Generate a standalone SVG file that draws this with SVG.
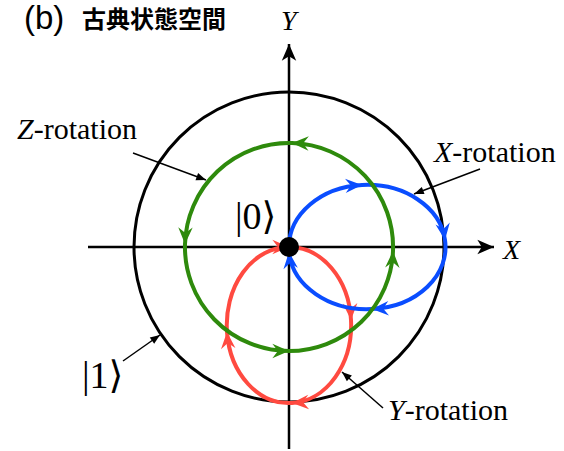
<svg xmlns="http://www.w3.org/2000/svg" width="564" height="451" viewBox="0 0 564 451">
<style>
.lbl{font-family:"Liberation Serif","DejaVu Serif",serif;font-size:30px;fill:#000}
.ax{font-family:"Liberation Serif",serif;font-style:italic;font-size:28px;fill:#000}
.ket{font-family:"Liberation Serif","DejaVu Serif",serif;font-size:38px;fill:#000}
.lead{stroke:#000;stroke-width:1.5;fill:none;marker-end:url(#sm)}
.curve{fill:none;stroke-width:4;stroke-linecap:round}
</style>
<defs>
<marker id="ag" markerUnits="userSpaceOnUse" markerWidth="20" markerHeight="20" refX="0" refY="0" viewBox="-16 -8 18 16" orient="auto"><path d="M0,0 L-15,-6.5 L-10,0 L-15,6.5 Z" fill="#2e8a0c"/></marker>
<marker id="ab" markerUnits="userSpaceOnUse" markerWidth="20" markerHeight="20" refX="0" refY="0" viewBox="-16 -8 18 16" orient="auto"><path d="M0,0 L-15,-6.5 L-10,0 L-15,6.5 Z" fill="#0a4dff"/></marker>
<marker id="ar" markerUnits="userSpaceOnUse" markerWidth="20" markerHeight="20" refX="0" refY="0" viewBox="-16 -8 18 16" orient="auto"><path d="M0,0 L-15,-6.5 L-10,0 L-15,6.5 Z" fill="#ff4a40"/></marker>
<marker id="ak" markerUnits="userSpaceOnUse" markerWidth="20" markerHeight="20" refX="0" refY="0" viewBox="-16 -8 18 16" orient="auto"><path d="M0,0 L-15,-6.5 L-11,0 L-15,6.5 Z" fill="#000"/></marker>
<marker id="sm" markerUnits="userSpaceOnUse" markerWidth="12" markerHeight="12" refX="0" refY="0" viewBox="-10 -5 11 10" orient="auto"><path d="M0,0 L-9,-3.5 L-9,3.5 Z" fill="#000"/></marker>
</defs>

<g id="title">
<text x="24" y="29" style="font-family:'Liberation Sans',sans-serif;font-size:33px">(b)</text>
<text x="82" y="28" style="font-family:'Noto Sans CJK JP',sans-serif;font-weight:bold;font-size:24px">古典状態空間</text>
</g>

<g id="sphere"><circle cx="289" cy="247" r="155" fill="none" stroke="#000" stroke-width="3"/></g>

<g id="axes">
<line x1="88" y1="247" x2="494" y2="247" stroke="#000" stroke-width="2.5" marker-end="url(#ak)"/>
<line x1="289" y1="449" x2="289" y2="44" stroke="#000" stroke-width="2.5" marker-end="url(#ak)"/>
<text class="ax" x="281" y="30">Y</text>
<text class="ax" x="503" y="259">X</text>
</g>

<g id="y-rotation">
<path class="curve" stroke="#ff4a40" d="M289,247 A62,78 0 0 1 351,320 A62,78 0 0 1 292,403 A62,78 0 0 1 227,332 A62,78 0 0 1 289,247" marker-mid="url(#ar)" marker-end="url(#ar)"/>
</g>

<g id="x-rotation">
<path class="curve" stroke="#0a4dff" d="M289,247 A78,62 0 0 1 362,185 A78,62 0 0 1 445,240 A78,62 0 0 1 372,309 A78,62 0 0 1 289,252" marker-mid="url(#ab)" marker-end="url(#ab)"/>
</g>

<g id="z-rotation">
<path class="curve" stroke="#2e8a0c" d="M292,143 A104,104 0 0 0 185,244 A104,104 0 0 0 289,351 A104,104 0 0 0 393,251 A104,104 0 0 0 292,143" marker-mid="url(#ag)" marker-end="url(#ag)"/>
</g>

<g id="origin"><circle cx="289" cy="247" r="10" fill="#000"/></g>

<g id="connectors">
<line class="lead" x1="133" y1="153" x2="206" y2="180"/>
<line class="lead" x1="480" y1="169" x2="414" y2="194"/>
<line class="lead" x1="383" y1="408" x2="342" y2="372"/>
<line class="lead" x1="123" y1="361" x2="160" y2="335"/>
</g>

<g id="labels">
<text class="lbl" x="17" y="139"><tspan font-style="italic">Z</tspan>-rotation</text>
<text class="lbl" x="434" y="162"><tspan font-style="italic">X</tspan>-rotation</text>
<text class="lbl" x="388" y="420"><tspan font-style="italic">Y</tspan>-rotation</text>
<text class="ket" x="235" y="229">|0⟩</text>
<text class="ket" x="82" y="388">|1⟩</text>
</g>
</svg>
